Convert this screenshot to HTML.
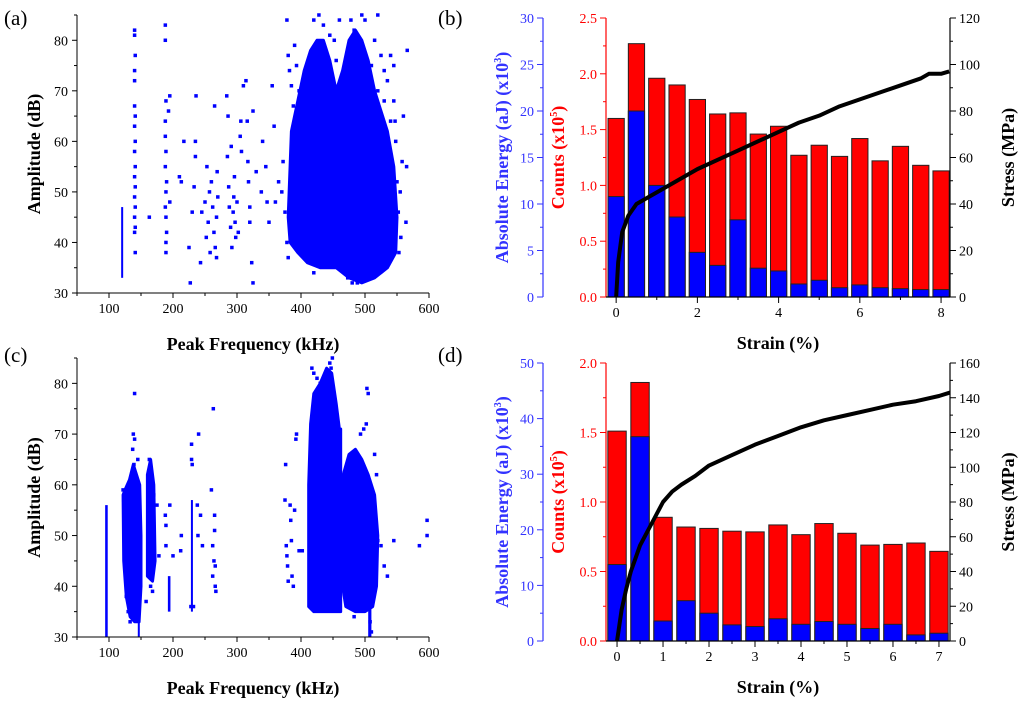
<!DOCTYPE html>
<html><head><meta charset="utf-8"><style>
body{margin:0;background:#fff}
svg{display:block;font-family:"Liberation Serif",serif}
</style></head><body>
<svg id="fig" width="1024" height="704" viewBox="0 0 1024 704" xmlns="http://www.w3.org/2000/svg"></svg>
<script>
// ---- Panel (a) scatter data: dense cluster outlines as [freq, amp] vertices ----
const aClusters = [
 [[380,45],[385,62],[395,68],[405,74],[415,78],[425,80],[435,80],[445,76],[455,70],[465,74],[475,80],[485,82],[495,80],[505,76],[515,70],[525,66],[535,62],[545,55],[550,45],[548,38],[535,35],[515,33],[495,32],[475,33],[455,35],[430,35],[410,36],[395,38],[383,40]]
];
const aLines = [[119,121,33,47]];
const aPoints = [[140,82],[140,81],[141,77],[140,74],[140,72],[140,67],[141,65],[140,63],[141,60],[140,58],[141,55],[140,53],[141,51],[140,49],[141,47],[140,45],[141,43],[140,42],[141,38],[188,83],[188,80],[189,68],[188,64],[188,61],[189,58],[188,55],[190,52],[189,50],[188,47],[189,45],[190,42],[189,40],[189,38],[195,69],[193,66],[195,48],[163,45],[210,53],[213,52],[217,60],[225,39],[227,32],[230,46],[233,51],[235,60],[235,57],[236,69],[243,36],[245,46],[250,48],[252,41],[253,55],[255,44],[257,50],[258,38],[260,52],[262,47],[264,42],[265,67],[266,39],[268,45],[268,37],[269,54],[270,49],[284,69],[285,57],[286,65],[287,51],[288,47],[290,43],[291,59],[292,39],[294,46],[295,49],[296,53],[297,44],[298,41],[300,48],[302,42],[305,61],[306,64],[307,58],[310,71],[314,72],[316,64],[317,56],[318,52],[320,47],[320,44],[323,36],[325,32],[325,66],[330,54],[338,50],[340,60],[345,55],[347,48],[350,44],[355,71],[358,63],[360,48],[365,52],[370,50],[378,84],[380,77],[382,74],[385,71],[388,67],[390,79],[420,84],[428,85],[435,83],[445,81],[460,84],[478,84],[483,82],[488,80],[495,85],[500,84],[510,75],[520,85],[525,77],[530,74],[535,72],[540,77],[545,75],[547,64],[548,60],[550,52],[552,46],[553,38],[556,41],[560,65],[565,55],[566,78],[564,44],[473,33],[480,32],[488,32],[505,33],[515,34],[420,34],[375,46],[372,56],[378,40],[380,37],[393,75],[397,70],[455,76],[452,80],[515,80],[520,70],[530,68],[540,64],[545,68],[555,50],[558,56]];
// ---- Panel (c) scatter data ----
const cClusters = [
 [[412,36],[412,60],[415,72],[420,78],[430,80],[440,83],[448,82],[455,76],[460,71],[462,71],[462,35],[440,35],[420,35]],
 [[465,40],[466,62],[475,66],[485,67],[495,65],[505,62],[515,58],[520,50],[518,40],[512,36],[500,35],[485,35],[470,36]],
 [[122,58],[125,59],[132,61],[138,64],[143,62],[148,60],[150,50],[150,40],[147,33],[140,33],[133,34],[127,38],[123,45]],
 [[160,42],[160,62],[165,65],[170,60],[172,45],[168,41]]
];
const cLines = [[94,98,30,56],[145,148,30,40],[192,196,35,42],[228,231,35,57],[505,510,30,36]];
const cPoints = [[140,78],[138,70],[140,69],[137,67],[139,64],[145,65],[143,60],[122,59],[123,57],[127,38],[130,35],[133,33],[163,65],[165,63],[168,60],[170,58],[175,56],[178,46],[165,40],[168,39],[158,37],[188,54],[189,52],[189,48],[195,56],[200,46],[212,47],[213,50],[229,68],[229,65],[230,64],[240,70],[238,56],[243,54],[246,48],[239,50],[228,36],[232,36],[260,59],[263,75],[265,54],[265,51],[262,48],[264,45],[266,44],[262,42],[266,40],[267,39],[375,57],[376,64],[377,48],[378,46],[379,44],[380,41],[383,56],[384,53],[385,49],[386,42],[388,40],[390,55],[392,69],[393,70],[397,47],[402,47],[417,83],[420,82],[425,81],[430,80],[445,84],[447,83],[449,85],[493,70],[498,71],[503,79],[505,78],[502,72],[515,66],[518,62],[520,49],[525,48],[530,44],[535,42],[545,49],[585,48],[597,53],[597,50],[483,34],[478,36],[510,31],[508,33]];
// ---- Panel (b) bar data ----
const bStrain = [0,0.5,1,1.5,2,2.5,3,3.5,4,4.5,5,5.5,6,6.5,7,7.5,8];
const bCounts = [1.60,2.27,1.96,1.90,1.77,1.64,1.65,1.46,1.53,1.27,1.36,1.26,1.42,1.22,1.35,1.18,1.13];
const bEnergy = [10.8,20.0,12.0,8.6,4.8,3.4,8.3,3.1,2.8,1.4,1.8,1.0,1.3,1.0,0.9,0.8,0.8];
const bStressX = [0,0.05,0.15,0.3,0.5,0.8,1,1.5,2,2.5,3,3.5,4,4.5,5,5.5,6,6.5,7,7.5,7.7,8,8.2];
const bStressY = [0,15,28,35,40,43,45,50,55,59,63,67,71,75,78,82,85,88,91,94,96,96,97];
// ---- Panel (d) bar data ----
const dStrain = [0,0.5,1,1.5,2,2.5,3,3.5,4,4.5,5,5.5,6,6.5,7];
const dCounts = [1.51,1.86,0.89,0.82,0.81,0.79,0.785,0.835,0.765,0.845,0.775,0.69,0.695,0.705,0.645];
const dEnergy = [13.75,36.75,3.6,7.25,5.0,2.9,2.6,4.0,3.0,3.5,3.0,2.25,3.0,1.1,1.4];
const dStressX = [0,0.1,0.2,0.3,0.5,0.8,1,1.2,1.4,1.7,2,2.5,3,3.5,4,4.5,5,5.5,6,6.5,7,7.24];
const dStressY = [0,18,30,40,55,70,80,86,90,95,101,107,113,118,123,127,130,133,136,138,141,143];

const NS="http://www.w3.org/2000/svg";
const svg=document.getElementById('fig');
function mk(tag,attrs,parent,text){const e=document.createElementNS(NS,tag);for(const k in attrs)e.setAttribute(k,attrs[k]);if(text!==undefined)e.textContent=text;(parent||svg).appendChild(e);return e;}
function lin(d0,d1,r0,r1){return v=>r0+(v-d0)/(d1-d0)*(r1-r0);}

function scatterPanel(name,top,bottom,clusters,lines,points){
  const g=mk('g',{});  
  const x=lin(50,600,77,429), y=lin(30,85,bottom,top);
  clusters.forEach(c=>{
    const r=mk('polygon',{points:c.map(p=>x(p[0])+','+y(p[1])).join(' '),fill:'#0000ff','stroke':'#0000ff','stroke-width':3,'stroke-linejoin':'round'},g);
     
  });
  lines.forEach(b=>{
    const r=mk('rect',{x:x(b[0]),y:y(b[3]),width:Math.max(2,x(b[1])-x(b[0])),height:y(b[2])-y(b[3]),fill:'#0000ff'},g);
     
  });
  points.forEach(p=>{
    const r=mk('rect',{x:x(p[0])-1.75,y:y(p[1])-1.75,width:3.5,height:3.5,fill:'#0000ff'},g);
     
  });
  mk('line',{x1:77,y1:top,x2:77,y2:bottom,stroke:'#000','stroke-width':1},g);
  mk('line',{x1:77,y1:bottom,x2:429,y2:bottom,stroke:'#000','stroke-width':1},g);
  for(let f=50;f<=600;f+=50){const maj=f%100===0;mk('line',{x1:x(f),y1:bottom,x2:x(f),y2:bottom+(maj?5:3),stroke:'#000'},g);
    if(maj){const t=mk('text',{x:x(f),y:bottom+20,'text-anchor':'middle','font-size':14},g,f);}}
  for(let a=30;a<=85;a+=5){const maj=a%10===0;mk('line',{x1:77,y1:y(a),x2:77-(maj?5:3),y2:y(a),stroke:'#000'},g);
    if(maj){const t=mk('text',{x:68,y:y(a)+5,'text-anchor':'end','font-size':14},g,a);}}
  const yt=mk('text',{x:0,y:0,transform:`translate(40,${(top+bottom)/2}) rotate(-90)`,'text-anchor':'middle','font-size':18,'font-weight':'bold'},g,'Amplitude (dB)');
   
  const xt=mk('text',{x:253,y:bottom+57,'text-anchor':'middle','font-size':18,'font-weight':'bold'},g,'Peak Frequency (kHz)');
   
}

function barPanel(name,top,bottom,xs,counts,energy,sx,sy,cfg){
  const g=mk('g',{});  
  const x=lin(cfg.x0,cfg.x1,606,950), yc=lin(0,cfg.cMax,bottom,top), ye=lin(0,cfg.eMax,bottom,top), ys=lin(0,cfg.sMax,bottom,top);
  const bw=x(0.4)-x(0);
  xs.forEach((s,i)=>{
    const r=mk('rect',{x:x(s)-bw/2,y:yc(counts[i]),width:bw,height:bottom-yc(counts[i]),fill:'#ff0000',stroke:'#222','stroke-width':1},g);
     
    const b=mk('rect',{x:x(s)-bw/2,y:ye(energy[i]),width:bw,height:bottom-ye(energy[i]),fill:'#0000ff',stroke:'#222','stroke-width':1},g);
     
  });
  const p=mk('polyline',{points:sx.map((v,i)=>x(v)+','+ys(sy[i])).join(' '),fill:'none',stroke:'#000','stroke-width':4,'stroke-linejoin':'round'},g);
   
  mk('line',{x1:543,y1:top,x2:543,y2:bottom,stroke:'#3333ff','stroke-width':1.2},g);
  mk('line',{x1:606,y1:top,x2:606,y2:bottom,stroke:'#ff0000','stroke-width':1.2},g);
  mk('line',{x1:950,y1:top,x2:950,y2:bottom,stroke:'#000','stroke-width':1.2},g);
  mk('line',{x1:606,y1:bottom,x2:950,y2:bottom,stroke:'#000','stroke-width':1.2},g);
  function ax(scale,max,step,minor,xl,col,fmt,side){
    for(let v=0;v<=max+1e-9;v+=minor){const maj=Math.abs(v/step-Math.round(v/step))<1e-6;
      mk('line',{x1:xl,y1:scale(v),x2:xl+side*(maj?6:3),y2:scale(v),stroke:col},g);
      if(maj){const t=mk('text',{x:xl+side*9,y:scale(v)+5,'text-anchor':side<0?'end':'start','font-size':14,fill:col},g,fmt(v));}}
  }
  ax(ye,cfg.eMax,cfg.eStep,cfg.eStep/2,543,'#3333ff',v=>Math.round(v),-1);
  ax(yc,cfg.cMax,0.5,0.25,606,'#ff0000',v=>v.toFixed(1),-1);
  ax(ys,cfg.sMax,20,10,950,'#000',v=>Math.round(v),1);
  for(let v=0;v<=cfg.x1;v+=cfg.xMinor){const maj=Math.abs(v/cfg.xStep-Math.round(v/cfg.xStep))<1e-6;
    mk('line',{x1:x(v),y1:bottom,x2:x(v),y2:bottom+(maj?6:3),stroke:'#000'},g);
    if(maj){const t=mk('text',{x:x(v),y:bottom+20,'text-anchor':'middle','font-size':14},g,Math.round(v));}}
  const cy=(top+bottom)/2;
  const e=mk('text',{transform:`translate(508,${cy}) rotate(-90)`,'text-anchor':'middle','font-size':18,'font-weight':'bold',fill:'#3333ff'},g);
  e.innerHTML='Absolute Energy (aJ) (x10<tspan dy="-7" font-size="10">3</tspan><tspan dy="7">)</tspan>';
   
  const c=mk('text',{transform:`translate(564,${cy}) rotate(-90)`,'text-anchor':'middle','font-size':18,'font-weight':'bold',fill:'#ff0000'},g);
  c.innerHTML='Counts (x10<tspan dy="-7" font-size="10">5</tspan><tspan dy="7">)</tspan>';
   
  const s=mk('text',{transform:`translate(1014,${cy}) rotate(-90)`,'text-anchor':'middle','font-size':18,'font-weight':'bold'},g,'Stress (MPa)');
   
  const xt=mk('text',{x:778,y:bottom+52,'text-anchor':'middle','font-size':18,'font-weight':'bold'},g,'Strain (%)');
   
}

scatterPanel('panel-a',15,293,aClusters,aLines,aPoints);
scatterPanel('panel-c',358,637,cClusters,cLines,cPoints);
barPanel('panel-b',18,297,bStrain,bCounts,bEnergy,bStressX,bStressY,{x0:-0.25,x1:8.22,cMax:2.5,eMax:30,eStep:5,sMax:120,xStep:2,xMinor:1});
barPanel('panel-d',363,641,dStrain,dCounts,dEnergy,dStressX,dStressY,{x0:-0.24,x1:7.24,cMax:2.0,eMax:50,eStep:10,sMax:160,xStep:1,xMinor:0.5});
[['(a)',4,25],['(b)',438,25],['(c)',4,362],['(d)',438,362]].forEach(l=>{
  const t=mk('text',{x:l[1],y:l[2],'font-size':21},svg,l[0]);
   
});
</script>
</body></html>
